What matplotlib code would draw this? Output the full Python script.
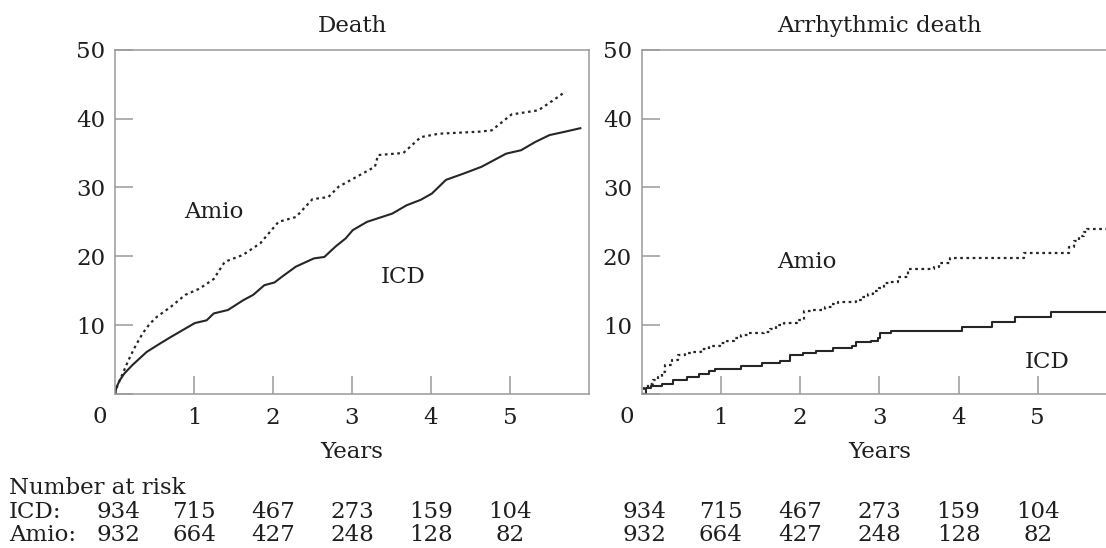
import matplotlib
matplotlib.use("Agg")
import matplotlib.pyplot as plt

plt.rcParams['font.family'] = ['DejaVu Serif']
FS = 16.5

# Death (left panel), cumulative %
death_icd_x = [0, 0.02, 0.06, 0.12, 0.22, 0.40, 0.58, 0.71, 0.89, 1.01, 1.16, 1.25, 1.43, 1.62, 1.75,
               1.89, 2.02, 2.11, 2.29, 2.52, 2.65, 2.79, 2.92, 3.01, 3.19, 3.51, 3.69, 3.87, 4.01, 4.19,
               4.41, 4.64, 4.95, 5.14, 5.32, 5.50, 5.70, 5.89]
death_icd_y = [0, 1.0, 2.0, 3.0, 4.2, 6.1, 7.4, 8.3, 9.5, 10.3, 10.7, 11.7, 12.2, 13.6, 14.4,
               15.8, 16.2, 17.0, 18.5, 19.7, 19.9, 21.4, 22.6, 23.8, 25.0, 26.2, 27.4, 28.2, 29.1, 31.1,
               32.0, 33.0, 34.9, 35.4, 36.6, 37.6, 38.1, 38.6]
death_amio_x = [0, 0.03, 0.08, 0.17, 0.26, 0.35, 0.44, 0.53, 0.71, 0.89, 1.07, 1.25, 1.39, 1.62, 1.84,
                2.07, 2.29, 2.50, 2.70, 2.83, 3.29, 3.33, 3.65, 3.87, 4.10, 4.62, 4.77, 5.02, 5.36, 5.59,
                5.70]
death_amio_y = [0, 1.2, 2.5, 4.9, 7.0, 8.8, 10.2, 11.2, 12.7, 14.4, 15.3, 16.7, 19.2, 20.2, 21.9,
                25.0, 25.7, 28.3, 28.6, 30.1, 33.0, 34.7, 35.0, 37.3, 37.8, 38.1, 38.3, 40.6, 41.2, 43.0,
                43.9]

# Arrhythmic death (right panel), step curves
arr_icd_x = [0, 0.05, 0.12, 0.25, 0.40, 0.57, 0.72, 0.85, 0.92, 1.26, 1.52, 1.74, 1.87, 2.04, 2.20,
             2.42, 2.66, 2.70, 2.90, 2.98, 3.01, 3.15, 4.05, 4.42, 4.71, 5.17, 5.86]
arr_icd_y = [0, 0.8, 1.1, 1.4, 2.0, 2.4, 2.9, 3.3, 3.6, 4.1, 4.5, 4.8, 5.6, 6.0, 6.2,
             6.7, 7.0, 7.6, 7.7, 8.1, 8.9, 9.2, 9.8, 10.4, 11.2, 11.9, 11.9]
arr_amio_x = [0, 0.03, 0.08, 0.14, 0.20, 0.25, 0.30, 0.38, 0.46, 0.55, 0.64, 0.75, 0.85, 0.99, 1.08,
              1.17, 1.26, 1.34, 1.55, 1.62, 1.69, 1.80, 1.96, 2.05, 2.15, 2.31, 2.40, 2.48, 2.70, 2.78,
              2.86, 2.92, 3.00, 3.06, 3.12, 3.24, 3.36, 3.69, 3.75, 3.89, 4.83, 5.40, 5.46, 5.52, 5.58,
              5.62, 5.86]
arr_amio_y = [0, 0.8, 1.5, 2.0, 2.5, 3.2, 4.2, 4.9, 5.6, 6.0, 6.1, 6.6, 6.9, 7.4, 7.7,
              8.1, 8.5, 8.9, 9.0, 9.5, 10.0, 10.3, 10.7, 12.0, 12.2, 12.7, 13.0, 13.4, 13.7, 14.1,
              14.5, 14.9, 15.4, 16.1, 16.3, 17.0, 18.1, 18.5, 19.0, 19.7, 20.5, 21.3, 22.2, 23.0, 23.5,
              24.0, 24.0]

risk_years = [0, 1, 2, 3, 4, 5]
risk_icd = [934, 715, 467, 273, 159, 104]
risk_amio = [932, 664, 427, 248, 128, 82]

W, H = 1106, 548
fig = plt.figure(figsize=(W / 100, H / 100), dpi=100)

line_col = "#262626"
spine_col = "#9a9a9a"
text_col = "#1e1e1e"


def px_axes(x0, y0, x1, y1):
    # pixel box -> figure fraction
    return fig.add_axes([x0 / W, 1 - y1 / H, (x1 - x0) / W, (y1 - y0) / H])


def style(ax, title):
    ax.set_xlim(0, 6)
    ax.set_ylim(0, 50)
    for s in ax.spines.values():
        s.set_color(spine_col)
        s.set_linewidth(1.1)
    ax.set_yticks([0, 10, 20, 30, 40, 50])
    ax.set_yticklabels(["", "10", "20", "30", "40", "50"])
    ax.set_xticks([1, 2, 3, 4, 5])
    ax.tick_params(direction="in", length=13, width=1.1, color=spine_col,
                   labelcolor=text_col, labelsize=FS)
    ax.tick_params(axis="x", pad=9)
    ax.tick_params(axis="y", pad=7)
    ax.set_title(title, fontsize=FS, color=text_col, pad=13)
    ax.set_xlabel("Years", fontsize=FS, color=text_col, labelpad=9)
    # shared origin label, sits on the x tick-label row
    ax.annotate("0", xy=(0, 0), xycoords="data", xytext=(-11, -16.5),
                textcoords="offset points", ha="center", va="center",
                fontsize=FS, color=text_col, annotation_clip=False)


ax1 = px_axes(115, 49.7, 589, 394)
ax2 = px_axes(641.7, 49.7, 641.7 + 6 * 79.2, 394)

ax1.plot(death_icd_x, death_icd_y, color=line_col, lw=1.5)
ax1.plot(death_amio_x, death_amio_y, color=line_col, lw=1.6, linestyle=(0, (1.2, 1.6)))
ax1.text(1.25, 26.5, "Amio", ha="center", va="center", fontsize=FS, color=text_col)
ax1.text(3.65, 17.0, "ICD", ha="center", va="center", fontsize=FS, color=text_col)
style(ax1, "Death")

ax2.plot(arr_icd_x, arr_icd_y, color=line_col, lw=1.5, drawstyle="steps-post")
ax2.plot(arr_amio_x, arr_amio_y, color=line_col, lw=1.6, linestyle=(0, (1.2, 1.6)),
         drawstyle="steps-post")
ax2.text(2.09, 19.2, "Amio", ha="center", va="center", fontsize=FS, color=text_col)
ax2.text(5.12, 4.7, "ICD", ha="center", va="center", fontsize=FS, color=text_col)
style(ax2, "Arrhythmic death")

# number-at-risk table
fig.text(9 / W, 1 - 488 / H, "Number at risk", ha="left", va="center", fontsize=FS, color=text_col)
fig.text(9 / W, 1 - 511.7 / H, "ICD:", ha="left", va="center", fontsize=FS, color=text_col)
fig.text(9 / W, 1 - 535 / H, "Amio:", ha="left", va="center", fontsize=FS, color=text_col)
for ax in (ax1, ax2):
    for yr, a, b in zip(risk_years, risk_icd, risk_amio):
        xf = fig.transFigure.inverted().transform(ax.transData.transform((yr, 0)))[0]
        if yr == 0:
            xf += 3 / W
        fig.text(xf, 1 - 511.7 / H, str(a), ha="center", va="center", fontsize=FS, color=text_col)
        fig.text(xf, 1 - 535 / H, str(b), ha="center", va="center", fontsize=FS, color=text_col)

fig.savefig("out.png", dpi=100)
